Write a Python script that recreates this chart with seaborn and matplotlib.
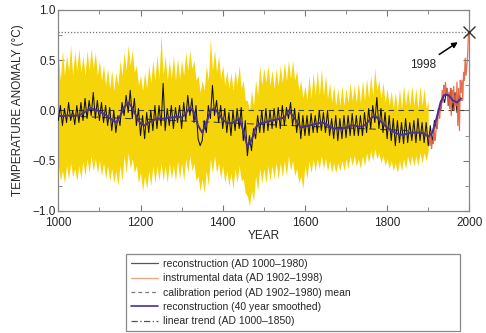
import numpy as np
import pandas as pd
import matplotlib
matplotlib.use("Agg")
import matplotlib.pyplot as plt
from matplotlib.lines import Line2D
from matplotlib.ticker import MultipleLocator
import seaborn as sns

# ---------------- data ----------------
recon_years = list(range(1000, 1981, 5))
recon_vals = [
    -0.10, 0.05, -0.15, 0.02, -0.12, 0.08, -0.10, 0.00, -0.14, 0.05,
    -0.12, 0.08, -0.10, 0.12, -0.08, 0.10, -0.05, 0.18, -0.08, 0.10,
    -0.10, 0.08, -0.12, 0.05, -0.15, 0.03, -0.20, 0.00, -0.22, -0.05,
    -0.15, 0.08, -0.05, 0.15, -0.02, 0.20, -0.08, 0.12, -0.15, 0.02,
    -0.25, -0.05, -0.28, -0.02, -0.22, 0.00, -0.20, 0.05, -0.18, 0.05,
    -0.15, 0.27, -0.20, 0.02, -0.15, 0.05, -0.18, 0.03, -0.12, 0.05,
    -0.18, 0.08, -0.10, 0.15, -0.05, 0.12, -0.12, 0.05, -0.28, -0.35,
    -0.30, -0.10, -0.22, 0.05, -0.08, 0.25, -0.05, 0.10, -0.12, 0.05,
    -0.18, 0.02, -0.22, -0.02, -0.25, 0.00, -0.20, 0.02, -0.18, 0.03,
    -0.30, -0.10, -0.45, -0.25, -0.40, -0.18, -0.28, -0.05, -0.22, 0.00,
    -0.22, 0.02, -0.20, 0.00, -0.18, 0.02, -0.17, 0.03, -0.18, 0.05,
    -0.15, 0.03, -0.08, 0.08, -0.15, 0.02, -0.22, -0.02, -0.28, -0.05,
    -0.25, -0.05, -0.25, -0.03, -0.22, -0.05, -0.22, 0.00, -0.20, -0.02,
    -0.22, 0.00, -0.25, -0.08, -0.28, -0.05, -0.30, -0.08, -0.28, -0.05,
    -0.27, -0.05, -0.25, -0.03, -0.25, -0.05, -0.25, -0.05, -0.25, -0.02,
    -0.22, 0.02, -0.18, 0.05, -0.12, 0.13, -0.18, 0.02, -0.22, -0.02,
    -0.28, -0.05, -0.30, -0.08, -0.35, -0.10, -0.32, -0.12, -0.33, -0.08,
    -0.32, -0.12, -0.30, -0.10, -0.32, -0.08, -0.30, -0.12, -0.32, -0.12,
    -0.35, -0.15, -0.32, -0.10, -0.18, 0.02, 0.00, 0.15, 0.08, 0.22,
    0.05, 0.22, 0.00, 0.18, -0.02, 0.15, 0.10,
]

band_years = list(range(1000, 1901, 5))
band_upper = [
    0.55, 0.30, 0.60, 0.35, 0.55, 0.40, 0.65, 0.35, 0.60, 0.40,
    0.62, 0.38, 0.55, 0.35, 0.60, 0.40, 0.62, 0.42, 0.58, 0.35,
    0.50, 0.30, 0.45, 0.25, 0.42, 0.22, 0.40, 0.20, 0.38, 0.25,
    0.50, 0.35, 0.58, 0.40, 0.65, 0.45, 0.60, 0.38, 0.45, 0.25,
    0.35, 0.20, 0.38, 0.22, 0.45, 0.28, 0.50, 0.30, 0.55, 0.32,
    0.75, 0.35, 0.55, 0.30, 0.50, 0.32, 0.55, 0.30, 0.52, 0.32,
    0.50, 0.35, 0.58, 0.40, 0.60, 0.42, 0.50, 0.30, 0.35, 0.18,
    0.30, 0.20, 0.45, 0.30, 0.72, 0.40, 0.60, 0.38, 0.55, 0.32,
    0.45, 0.25, 0.40, 0.22, 0.38, 0.20, 0.40, 0.25, 0.45, 0.22,
    0.30, 0.10, 0.10, 0.00, 0.20, 0.05, 0.30, 0.15, 0.45, 0.25,
    0.42, 0.28, 0.45, 0.25, 0.40, 0.22, 0.42, 0.25, 0.45, 0.28,
    0.48, 0.30, 0.50, 0.32, 0.50, 0.30, 0.40, 0.20, 0.30, 0.12,
    0.25, 0.10, 0.35, 0.12, 0.38, 0.15, 0.40, 0.15, 0.42, 0.15,
    0.35, 0.12, 0.28, 0.08, 0.25, 0.05, 0.22, 0.05, 0.25, 0.05,
    0.22, 0.08, 0.28, 0.10, 0.25, 0.08, 0.28, 0.08, 0.30, 0.10,
    0.32, 0.12, 0.35, 0.15, 0.42, 0.20, 0.30, 0.12, 0.28, 0.08,
    0.22, 0.05, 0.20, 0.02, 0.18, 0.00, 0.22, 0.02, 0.25, 0.05,
    0.22, 0.05, 0.25, 0.05, 0.22, 0.02, 0.25, 0.05, 0.22, 0.02,
    0.10,
]
band_lower = [
    -0.55, -0.70, -0.60, -0.72, -0.55, -0.68, -0.52, -0.66, -0.58, -0.70,
    -0.55, -0.68, -0.50, -0.65, -0.48, -0.62, -0.45, -0.60, -0.48, -0.62,
    -0.50, -0.65, -0.52, -0.68, -0.55, -0.70, -0.58, -0.72, -0.60, -0.75,
    -0.55, -0.70, -0.45, -0.62, -0.42, -0.58, -0.48, -0.62, -0.55, -0.72,
    -0.62, -0.80, -0.65, -0.78, -0.60, -0.75, -0.55, -0.72, -0.55, -0.70,
    -0.52, -0.70, -0.55, -0.72, -0.52, -0.68, -0.55, -0.70, -0.50, -0.68,
    -0.52, -0.70, -0.48, -0.62, -0.45, -0.60, -0.52, -0.70, -0.65, -0.80,
    -0.68, -0.82, -0.60, -0.75, -0.48, -0.62, -0.45, -0.62, -0.52, -0.68,
    -0.55, -0.72, -0.60, -0.75, -0.62, -0.78, -0.58, -0.72, -0.55, -0.70,
    -0.68, -0.82, -0.85, -0.95, -0.80, -0.90, -0.65, -0.80, -0.58, -0.72,
    -0.58, -0.72, -0.55, -0.70, -0.55, -0.68, -0.52, -0.68, -0.52, -0.66,
    -0.50, -0.65, -0.45, -0.60, -0.50, -0.65, -0.58, -0.72, -0.65, -0.78,
    -0.55, -0.68, -0.50, -0.62, -0.48, -0.60, -0.48, -0.58, -0.45, -0.58,
    -0.48, -0.60, -0.50, -0.62, -0.52, -0.62, -0.52, -0.60, -0.50, -0.60,
    -0.48, -0.58, -0.45, -0.55, -0.45, -0.55, -0.48, -0.58, -0.45, -0.55,
    -0.42, -0.52, -0.40, -0.50, -0.38, -0.48, -0.42, -0.52, -0.45, -0.55,
    -0.48, -0.58, -0.50, -0.60, -0.52, -0.62, -0.50, -0.60, -0.48, -0.58,
    -0.45, -0.55, -0.45, -0.55, -0.45, -0.55, -0.42, -0.52, -0.42, -0.50,
    -0.40,
]

smooth_years = list(range(1000, 1981, 10))
smooth_vals = [
    -0.05, -0.06, -0.05, -0.05, -0.05, -0.05, -0.03, 0.00, 0.02, 0.01,
    -0.01, -0.03, -0.06, -0.09, -0.12, -0.06, 0.03, 0.08, 0.03, -0.06,
    -0.13, -0.15, -0.12, -0.10, -0.08, -0.08, -0.08, -0.07, -0.07, -0.06,
    -0.07, -0.03, 0.03, -0.02, -0.15, -0.22, -0.13, 0.00, 0.02, -0.03,
    -0.09, -0.12, -0.13, -0.11, -0.08, -0.20, -0.36, -0.30, -0.17, -0.13,
    -0.12, -0.11, -0.10, -0.09, -0.08, -0.07, 0.00, -0.05, -0.11, -0.17,
    -0.16, -0.15, -0.14, -0.13, -0.12, -0.13, -0.16, -0.18, -0.18, -0.18,
    -0.17, -0.15, -0.15, -0.16, -0.16, -0.13, -0.08, -0.05, -0.09, -0.13,
    -0.17, -0.20, -0.22, -0.24, -0.24, -0.23, -0.22, -0.22, -0.22, -0.23,
    -0.26, -0.22, -0.08, 0.08, 0.16, 0.15, 0.10, 0.08, 0.12,
]

inst_years = list(range(1902, 1999, 2))
inst_vals = [
    -0.28, -0.35, -0.22, -0.38, -0.30, -0.33, -0.15, -0.30, -0.25, -0.12,
    -0.18, -0.05, 0.02, -0.08, 0.10, 0.02, 0.20, 0.08, 0.25, 0.18,
    0.28, 0.15, 0.22, 0.05, 0.18, 0.02, 0.22, -0.05, 0.20, 0.08,
    0.24, 0.00, 0.15, 0.05, 0.28, -0.15, 0.22, -0.20, 0.30, 0.18,
    0.30, 0.10, 0.38, 0.30, 0.52, 0.35, 0.45, 0.55, 0.78,
]

trend_years = [1000, 1850]
trend_vals = [-0.05, -0.20]

calib_mean = 0.0
peak_year = 1998
peak_val = 0.78

legend_labels = [
    "reconstruction (AD 1000\u20131980)",
    "instrumental data (AD 1902\u20131998)",
    "calibration period (AD 1902\u20131980) mean",
    "reconstruction (40 year smoothed)",
    "linear trend (AD 1000\u20131850)",
]

# ---------------- plotting ----------------
sns.set_style("ticks")
plt.rcParams["font.family"] = ["Liberation Sans", "DejaVu Sans"]
plt.rcParams["axes.unicode_minus"] = True

fig = plt.figure(figsize=(4.86, 3.33), dpi=100)
ax = fig.add_axes([0.12, 0.3664, 0.8457, 0.6036])

yellow = "#f6d40a"
inst_col = "#e0603c"
purple = "#4a2f9c"

ax.fill_between(band_years, band_lower, band_upper, color=yellow, lw=0, zorder=1)

sns.lineplot(x=recon_years, y=recon_vals, ax=ax, color="#111111", lw=0.75,
             errorbar=None, zorder=3)
sns.lineplot(x=inst_years, y=inst_vals, ax=ax, color=inst_col, lw=0.9,
             alpha=0.9, errorbar=None, zorder=4)
sns.lineplot(x=smooth_years, y=smooth_vals, ax=ax, color=purple, lw=1.4,
             errorbar=None, zorder=5)
sns.lineplot(x=trend_years, y=trend_vals, ax=ax, color="#444444", lw=0.8,
             errorbar=None, zorder=2, dashes=False, linestyle=(0, (6, 4)))

ax.axhline(calib_mean, color="#444444", lw=0.8, ls=(0, (5, 4)), zorder=2)
ax.axhline(peak_val, color="#777777", lw=0.9, ls=(0, (1, 1.5)), zorder=2)
ax.plot([peak_year], [peak_val], marker="x", color="#333333", ms=8, mew=1.0,
        zorder=6, clip_on=False)
ax.annotate("1998", xy=(1972, 0.68), xytext=(1887, 0.45),
            fontsize=8.5, ha="center", va="center",
            arrowprops=dict(arrowstyle="-|>", color="black", lw=1.1,
                            mutation_scale=8, shrinkA=2, shrinkB=0))

ax.set_xlim(1000, 2000)
ax.set_ylim(-1.0, 1.0)
ax.xaxis.set_major_locator(MultipleLocator(200))
ax.xaxis.set_minor_locator(MultipleLocator(100))
ax.yaxis.set_major_locator(MultipleLocator(0.5))
ax.yaxis.set_minor_locator(MultipleLocator(0.25))
ax.set_yticklabels([f"{v:.1f}".replace("-", "\u2212") for v in ax.get_yticks()])
ax.tick_params(which="both", direction="in", top=True, right=True,
               color="#777777", labelsize=8.5)
ax.tick_params(axis="y", pad=2)
ax.tick_params(axis="x", pad=4)
ax.tick_params(which="major", length=4)
ax.tick_params(which="minor", length=3)
for s in ax.spines.values():
    s.set_color("#888888")
    s.set_linewidth(0.9)

ax.set_xlabel("YEAR", fontsize=8.5, labelpad=1)
ax.set_ylabel("TEMPERATURE ANOMALY (\u00b0C)", fontsize=8.5, labelpad=6)

handles = [
    Line2D([], [], color="#555555", lw=0.9),
    Line2D([], [], color="#f0a080", lw=0.9),
    Line2D([], [], color="#777777", lw=0.9, ls=(0, (3, 2.5))),
    Line2D([], [], color=purple, lw=1.2),
    Line2D([], [], color="#555555", lw=0.9, ls=(0, (5, 2, 1, 2))),
]
leg = fig.legend(handles, legend_labels, loc="lower left",
                 bbox_to_anchor=(0.259, 0.006, 0.687, 0.234), mode="expand",
                 fontsize=7.5, frameon=True, fancybox=False, framealpha=1,
                 edgecolor="#888888", handlelength=2.6, handletextpad=0.5,
                 labelspacing=0.42, borderpad=0.45, borderaxespad=0)
leg.get_frame().set_linewidth(0.9)

fig.savefig("out.png", dpi=100)
